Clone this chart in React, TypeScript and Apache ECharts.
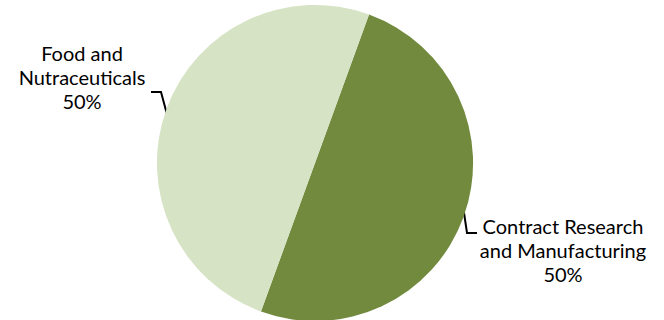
import React, { useEffect, useRef } from "react";
import * as echarts from "echarts";

const categories = ["Contract Research\nand Manufacturing", "Food and\nNutraceuticals"];
const values = [50, 50];
const colors = ["#728A3E", "#D7E3C5"];

// label anchor placements (center x, center y) and leader lines per slice
const labelPlacements = [
  { x: 563, y: 250, line: [[463, 206], [467, 233], [477, 233]] },
  { x: 82, y: 77, line: [[168, 118], [161, 92], [151, 92]] },
];

export default function App() {
  const ref = useRef<HTMLDivElement>(null);
  useEffect(() => {
    const chart = echarts.init(ref.current!, null, { renderer: "svg" });
    chart.setOption({
      animation: false,
      backgroundColor: "#ffffff",
      series: [
        {
          type: "pie",
          center: [315, 163],
          radius: 158,
          startAngle: 70,
          clockwise: true,
          data: categories.map((c, i) => ({
            name: c,
            value: values[i],
            itemStyle: { color: colors[i] },
          })),
          label: {
            show: true,
            formatter: "{b}\n{d}%",
            color: "#000",
            fontSize: 20,
            lineHeight: 24,
            overflow: "none",
            width: 300,
            fontFamily: "Lato, sans-serif",
            align: "center",
          },
          labelLine: {
            show: true,
            lineStyle: { color: "#000", width: 2 },
          },
          labelLayout: (params: any) => {
            const p = labelPlacements[params.dataIndex];
            return {
              x: p.x,
              y: p.y,
              align: "center",
              verticalAlign: "middle",
              labelLinePoints: p.line,
            };
          },
        },
      ],
    });
    return () => chart.dispose();
  }, []);
  return (
    <div
      ref={ref}
      style={{ position: "fixed", left: 0, top: 0, width: 664, height: 320 }}
    />
  );
}
